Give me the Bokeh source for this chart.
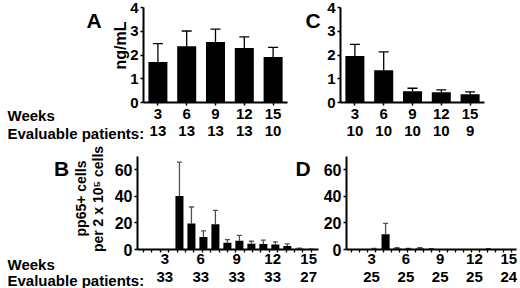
import math
import numpy as np
from bokeh.plotting import figure
from bokeh.models import (ColumnDataSource, Whisker, TeeHead, FixedTicker,
                          LinearAxis, Range1d, GridBox)
from bokeh.core.properties import value
from bokeh.embed import file_html
from bokeh.resources import INLINE

# ---------------- data ----------------
weeks_ac = ["3", "6", "9", "12", "15"]
a_mean = [1.71, 2.37, 2.55, 2.30, 1.92]
a_err = [0.77, 0.64, 0.54, 0.46, 0.40]
a_patients = ["13", "13", "13", "13", "10"]
c_mean = [1.96, 1.36, 0.47, 0.43, 0.35]
c_err = [0.49, 0.77, 0.13, 0.10, 0.10]
c_patients = ["10", "10", "10", "10", "9"]

b_weeks = [4, 5, 6, 7, 8, 9, 10, 11, 12, 13, 14, 15]
b_mean = [40.2, 19.5, 9.5, 19.0, 5.0, 6.5, 4.3, 4.2, 3.7, 2.7, 0.6, 0.2]
b_err = [25.5, 12.5, 4.5, 10.5, 2.5, 4.2, 1.9, 2.8, 2.0, 1.5, 0.4, 0.1]
d_weeks = [3, 4, 5, 6, 7, 8, 13]
d_mean = [0.4, 11.4, 0.8, 0.5, 0.8, 0.3, 0.3]
d_err = [0.4, 8.3, 0.5, 0.4, 0.6, 0.3, 0.3]
label_weeks = [3, 6, 9, 12, 15]
b_patients = ["33", "33", "33", "33", "27"]
d_patients = ["25", "25", "25", "25", "24"]

panel_letters = ["A", "C", "B", "D"]
row_titles = ["Weeks", "Evaluable patients:", "Weeks", "Evaluable patients:"]
a_ylabel = "ng/mL"
b_ylabel = ["pp65+ cells", "per 2 x 10\u2075 cells"]

FONT = "Liberation Sans"
FS = "15px"


def make_fig(width, height, left, right, top, bottom, xr, yr):
    p = figure(width=width, height=height, x_range=Range1d(*xr), y_range=Range1d(*yr),
               output_backend="svg", toolbar_location=None,
               min_border_left=left, min_border_right=right,
               min_border_top=top, min_border_bottom=bottom)
    p.outline_line_color = None
    p.grid.visible = False
    p.background_fill_color = "white"
    p.border_fill_color = "white"
    p.frame_align = False
    return p


def style_axis(ax, tick_out=3, standoff=2, size=FS):
    ax.axis_line_color = "black"
    ax.axis_line_width = 2
    ax.major_tick_line_color = "black"
    ax.major_tick_line_width = 1.5
    ax.major_tick_out = tick_out
    ax.major_tick_in = 0
    ax.minor_tick_line_color = None
    ax.major_label_text_font = FONT
    ax.major_label_text_font_style = "bold"
    ax.major_label_text_font_size = size
    ax.major_label_text_color = "black"
    ax.major_label_standoff = standoff


def bars(p, xs, means, errs, width, cap, err_color):
    p.vbar(x=xs, top=means, bottom=0, width=width, fill_color="black", line_color=None)
    src = ColumnDataSource(dict(x=xs, lower=means,
                                upper=[m + e for m, e in zip(means, errs)]))
    p.add_layout(Whisker(base="x", lower="lower", upper="upper", source=src,
                         dimension="height", line_color=err_color, line_width=1.3,
                         lower_head=None,
                         upper_head=TeeHead(size=cap, line_color=err_color, line_width=1.3)))


def y_axis(p, ticks, size=FS):
    style_axis(p.yaxis[0], tick_out=3, standoff=2, size=size)
    p.yaxis[0].ticker = FixedTicker(ticks=ticks)


def bottom_axes(p, ticks, week_labels, patients, standoff, gap, minor=None):
    ax = p.xaxis[0]
    style_axis(ax, tick_out=3, standoff=standoff)
    ax.ticker = FixedTicker(ticks=ticks, minor_ticks=minor if minor is not None else [])
    ax.major_label_overrides = {t: str(w) for t, w in zip(ticks, week_labels)}
    if minor is not None:
        ax.major_tick_line_color = None
        ax.minor_tick_line_color = "black"
        ax.minor_tick_line_width = 1.3
        ax.minor_tick_out = 3
        ax.minor_tick_in = 0
    ax2 = LinearAxis(ticker=FixedTicker(ticks=ticks),
                     major_label_overrides={t: s for t, s in zip(ticks, patients)})
    style_axis(ax2, tick_out=0, standoff=gap)
    ax2.axis_line_color = None
    ax2.major_tick_line_color = None
    p.add_layout(ax2, "below")


# ---------------- top row: A and C ----------------
xs_ac = list(range(1, len(weeks_ac) + 1))
H = 144

pA = make_fig(320, H, 143, 33, 7, 42, (0.5, 5.5), (0, 4))
bars(pA, xs_ac, a_mean, a_err, 0.66, 10, "black")
y_axis(pA, [0, 1, 2, 3, 4])
bottom_axes(pA, xs_ac, weeks_ac, a_patients, standoff=3, gap=4)

pC = make_fig(200, H, 20, 36, 7, 42, (0.5, 5.5), (0, 4))
bars(pC, xs_ac, c_mean, c_err, 0.66, 10, "black")
y_axis(pC, [0, 1, 2, 3, 4])
bottom_axes(pC, xs_ac, weeks_ac, c_patients, standoff=3, gap=4)

# ---------------- bottom row: B and D ----------------
minor_b = list(np.arange(1.0, 15.6, 0.7))
lab_pos = [w - 0.22 for w in label_weeks]

pB = make_fig(320, H, 137, 2, 12, 39, (0.5, 15.6), (0, 70))
bars(pB, b_weeks, b_mean, b_err, 0.67, 5, "#505050")
y_axis(pB, [0, 20, 40, 60], size="16px")
bottom_axes(pB, lab_pos, label_weeks, b_patients, standoff=1, gap=5, minor=minor_b)

pD = make_fig(200, H, 21, 4, 12, 39, (0.58, 15.46), (0, 70))
bars(pD, d_weeks, d_mean, d_err, 0.71, 5, "#505050")
y_axis(pD, [0, 20, 40, 60], size="16px")
bottom_axes(pD, lab_pos, label_weeks, d_patients, standoff=1, gap=5, minor=minor_b)

# ---------------- transparent text overlay (labels outside the frames) ----------------
ov = figure(width=520, height=288, x_range=Range1d(0, 520), y_range=Range1d(288, 0),
            output_backend="svg", toolbar_location=None,
            x_axis_type=None, y_axis_type=None, min_border=0)
ov.outline_line_color = None
ov.grid.visible = False
ov.background_fill_color = None
ov.border_fill_color = None
ov.frame_align = False

common = dict(text_font=value(FONT), text_font_style="bold", text_color="black")
ov.text(x=[93.5, 312.5, 61, 302.5], y=[20, 20, 168, 168], text=panel_letters,
        text_font_size="21px", text_align="center", text_baseline="alphabetic", **common)
ov.text(x=[7, 7, 7, 7], y=[115, 133, 264, 280], text=row_titles,
        text_font_size="15px", text_align="left", text_baseline="alphabetic", **common)
ov.text(x=[120], y=[45], text=[a_ylabel], angle=math.pi / 2,
        text_font_size="16px", text_align="center", text_baseline="alphabetic", **common)
ov.text(x=[80, 97], y=[198, 198.5], text=b_ylabel, angle=math.pi / 2,
        text_font_size="14px", text_align="center", text_baseline="alphabetic", **common)

grid = GridBox(children=[(pA, 0, 0), (pC, 0, 1), (pB, 1, 0), (pD, 1, 1),
                         (ov, 0, 0, 2, 2)], spacing=0)

open("out.html", "w").write(file_html(grid, INLINE))
